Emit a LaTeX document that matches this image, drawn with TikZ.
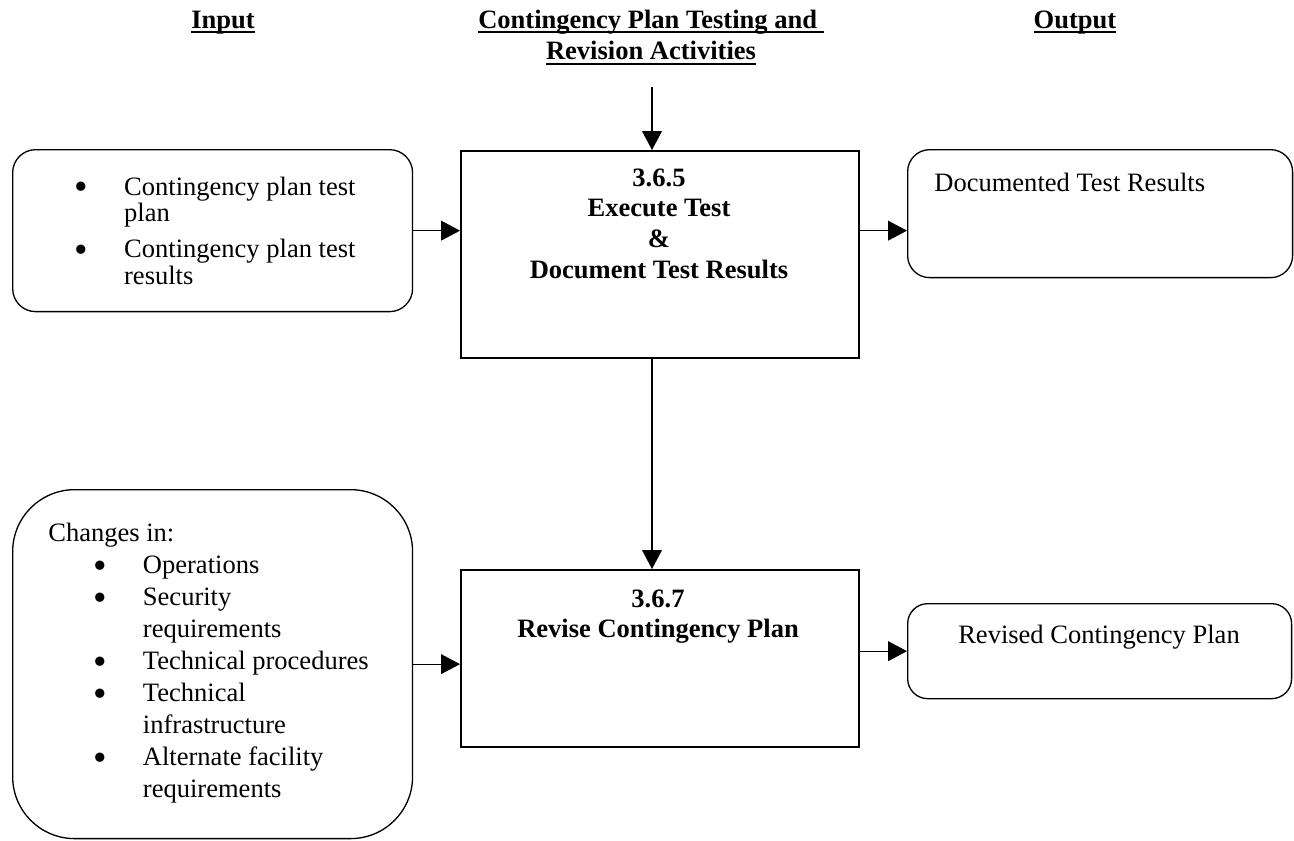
\documentclass[tikz,border=0pt]{standalone}
\usepackage{fontspec}
\setmainfont{Liberation Serif}
\usetikzlibrary{arrows.meta}
\newcommand\hdul[1]{\setbox0\hbox{#1}\rlap{\rule[-0.18em]{\wd0}{0.07em}}\box0}
\newcommand\bpt{\makebox[28.35pt][l]{\smash{\raisebox{-2.8pt}{\fontsize{22pt}{22pt}\selectfont\textbullet}}}}
\newcommand\bsk{\hspace*{28.35pt}}
\newcommand\ind{\hspace*{25.5pt}}

\begin{document}
\begin{tikzpicture}[x=0.02cm,y=-0.02cm]
\tikzstyle{every node}=[inner sep=0pt, font={\fontsize{15.1pt}{18.1pt}\selectfont}]
\tikzstyle{box}=[draw, line width=1pt, anchor=north west]
\tikzstyle{rbox}=[draw, line width=0.75pt, anchor=north west]
\tikzstyle{arr}=[line width=0.6pt, -{Triangle[length=10.8pt,width=11.3pt]}]
\useasboundingbox (0,0) rectangle (1294,840);
% headings
\draw (223,28) node (hdrin) [anchor=base, font={\fontsize{15.1pt}{18.1pt}\selectfont\bfseries}] {\hdul{Input}};
\draw (651,28) node (hdrmid) [anchor=base, font={\fontsize{15.1pt}{18.1pt}\selectfont\bfseries}]
  {\begin{tabular}[t]{@{}c@{}}\hdul{Contingency Plan Testing and\ }\\ \hdul{Revision Activities}\end{tabular}};
\draw (1075,28) node (hdrout) [anchor=base, font={\fontsize{15.1pt}{18.1pt}\selectfont\bfseries}] {\hdul{Output}};
% boxes
\draw (12,149) node (in1) [rbox, rounded corners=0.46cm, minimum width=8cm, minimum height=3.24cm] {};
\draw (12,489) node (in2) [rbox, rounded corners=1.24cm, minimum width=8cm, minimum height=6.98cm] {};
\draw (460,150) node (exec) [box, minimum width=7.96cm, minimum height=4.14cm] {};
\draw (460,569) node (revise) [box, minimum width=7.96cm, minimum height=3.54cm] {};
\draw (907,149) node (out1) [rbox, rounded corners=0.44cm, minimum width=7.7cm, minimum height=2.56cm] {};
\draw (907,603) node (out2) [rbox, rounded corners=0.4cm, minimum width=7.68cm, minimum height=1.9cm] {};
% box texts
\draw (74,195) node (in1txt) [anchor=base west, font={\fontsize{15.1pt}{15.3pt}\selectfont}]
  {\begin{tabular}[t]{@{}l@{}}\bpt Contingency plan test\\ \bsk plan\\[5.1pt] \bpt Contingency plan test\\ \bsk results\end{tabular}};
\draw (48,541) node (in2txt) [anchor=base west, font={\fontsize{15.1pt}{18.25pt}\selectfont}]
  {\begin{tabular}[t]{@{}l@{}}Changes in:\\ \ind\bpt Operations\\ \ind\bpt Security\\ \ind\bsk requirements\\
   \ind\bpt Technical procedures\\ \ind\bpt Technical\\ \ind\bsk infrastructure\\
   \ind\bpt Alternate facility\\ \ind\bsk requirements\end{tabular}};
\draw (659,186) node (exectxt) [anchor=base, font={\fontsize{15.1pt}{17.6pt}\selectfont\bfseries}]
  {\begin{tabular}[t]{@{}c@{}}3.6.5\\ Execute Test\\ \&\\ Document Test Results\end{tabular}};
\draw (658,607) node (revtxt) [anchor=base, font={\fontsize{15.1pt}{17.6pt}\selectfont\bfseries}]
  {\begin{tabular}[t]{@{}c@{}}3.6.7\\ Revise Contingency Plan\end{tabular}};
\draw (934,191) node (out1txt) [anchor=base west] {Documented Test Results};
\draw (1099,643) node (out2txt) [anchor=base] {Revised Contingency Plan};
% connectors
\draw (652,87) coordinate (topin);
\draw[arr] (topin) -- (exec.north -| topin);
\draw[arr] (in1.east) -- (in1.east -| exec.west);
\draw[arr] (exec.east |- in1.east) -- (out1.west |- in1.east);
\draw[arr] (exec.south -| topin) -- (revise.north -| topin);
\draw[arr] (in2.east) -- (in2.east -| revise.west);
\draw[arr] (revise.east |- out2.west) -- (out2.west);
\end{tikzpicture}
\end{document}
